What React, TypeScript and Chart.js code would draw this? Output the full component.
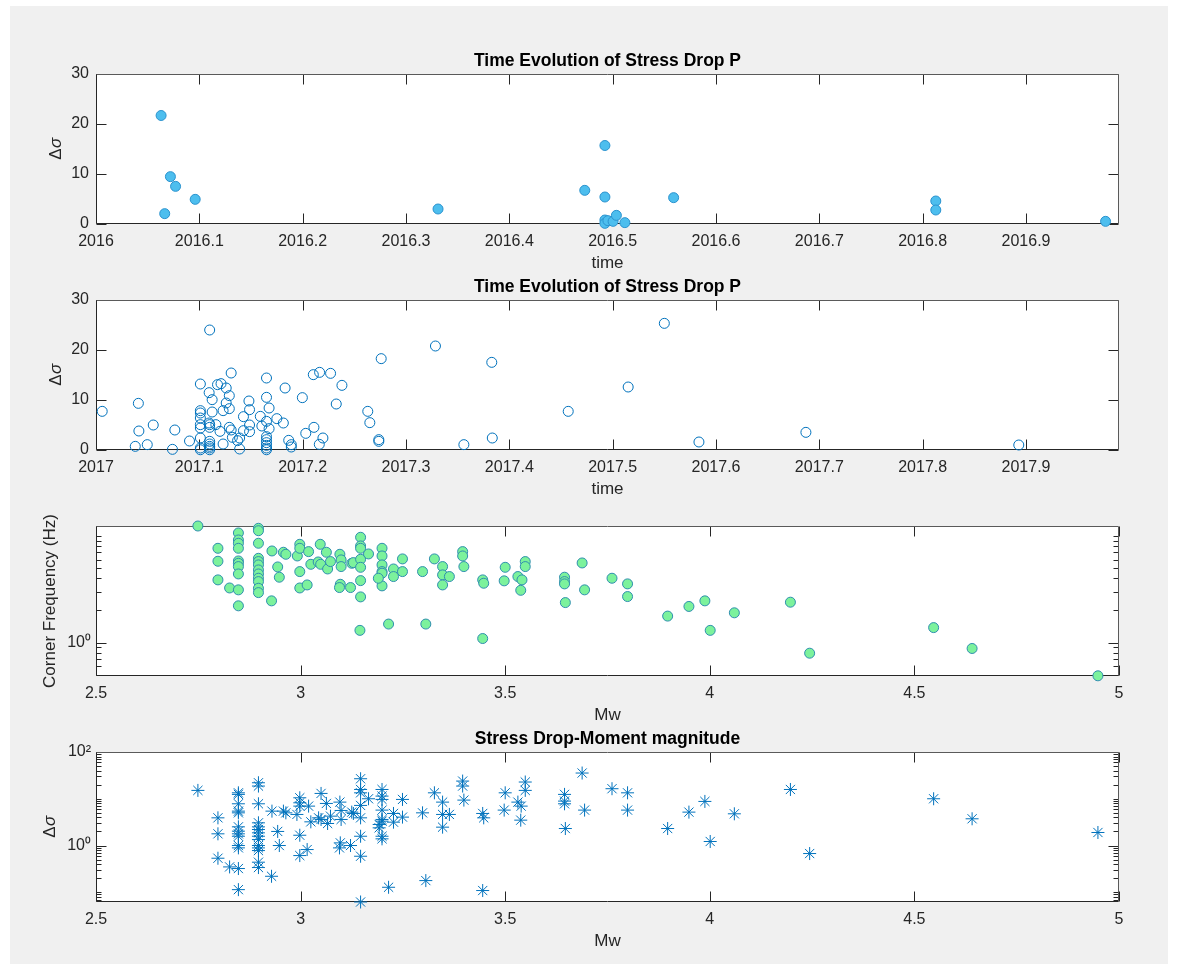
import React, { useEffect, useRef } from "react";
import { Chart, registerables } from "chart.js";

Chart.register(...registerables);

const FONT = '"Liberation Sans", Arial, Helvetica, sans-serif';
const INK = "#262626";

// ---------- 2016 events: origin time (decimal year) vs P-wave stress drop ----------
const time2016 = [
  2016.063, 2016.0665, 2016.072, 2016.077, 2016.096, 2016.331, 2016.473,
  2016.4925, 2016.4925, 2016.4925, 2016.4925, 2016.4954, 2016.5004, 2016.5036,
  2016.5118, 2016.559, 2016.8127, 2016.8127, 2016.977,
];
const stressDrop2016 = [
  21.7, 2.07, 9.47, 7.53, 4.93, 3.0, 6.73,
  15.7, 5.4, 0.8, 0.13, 0.67, 0.53, 1.73,
  0.27, 5.27, 4.6, 2.8, 0.53,
];

// ---------- 2017 events ----------
const time2017 = [
  2017.006, 2017.038, 2017.041, 2017.0415, 2017.0496, 2017.0554, 2017.074, 2017.0763, 2017.0905,
  2017.101, 2017.101, 2017.101, 2017.101, 2017.101, 2017.101, 2017.101, 2017.101, 2017.101,
  2017.11, 2017.1095, 2017.1124, 2017.1124, 2017.1095,
  2017.11, 2017.11, 2017.11, 2017.11, 2017.11, 2017.11, 2017.11,
  2017.1176, 2017.121, 2017.126, 2017.126, 2017.123, 2017.123,
  2017.129, 2017.129, 2017.129, 2017.1308, 2017.1308, 2017.116, 2017.12, 2017.132,
  2017.137, 2017.139, 2017.139, 2017.1427, 2017.1427,
  2017.148, 2017.1486, 2017.1486, 2017.1486, 2017.159, 2017.1605,
  2017.165, 2017.165, 2017.165, 2017.165, 2017.165, 2017.165, 2017.165, 2017.165, 2017.165,
  2017.1675, 2017.1675, 2017.175, 2017.1813, 2017.183, 2017.1865, 2017.189, 2017.189,
  2017.1997, 2017.203, 2017.2103, 2017.2109, 2017.2164, 2017.2161, 2017.2196,
  2017.227, 2017.2325, 2017.238, 2017.263, 2017.265, 2017.2737, 2017.2737, 2017.276,
  2017.3285, 2017.356, 2017.383, 2017.3835, 2017.457, 2017.515, 2017.55, 2017.5835,
  2017.687, 2017.893,
];
const stressDrop2017 = [
  7.73, 0.73, 9.33, 3.8, 1.07, 5.0, 0.13, 4.0, 1.8,
  13.2, 7.87, 7.4, 6.4, 5.07, 4.4, 2.4, 0.4, 0.05,
  24.0, 11.47, 10.07, 7.6, 5.4,
  5.07, 4.53, 1.73, 1.2, 0.73, 0.4, 0.05,
  13.07, 13.27, 12.4, 9.4, 7.87, 1.2,
  10.87, 8.27, 4.53, 15.4, 4.0, 5.07, 3.73, 2.53,
  1.87, 2.4, 0.2, 6.67, 3.87,
  9.8, 8.07, 5.0, 3.67, 6.73, 4.8,
  14.4, 10.53, 5.73, 2.67, 2.07, 1.47, 0.93, 0.4, 0.05,
  8.4, 4.27, 6.27, 5.4, 12.4, 1.93, 1.07, 0.6,
  10.47, 3.33, 15.07, 4.53, 15.53, 1.13, 2.4,
  15.33, 9.2, 12.93, 7.73, 5.47, 2.07, 1.73, 18.27,
  20.8, 1.07, 17.53, 2.4, 7.73, 12.6, 25.33, 1.6,
  3.53, 1.0,
];

// ---------- moment magnitude vs corner frequency ----------
const mwCorner = [
  2.749, 2.798, 2.798, 2.798, 2.8265,
  2.848, 2.848, 2.848, 2.848, 2.848, 2.848, 2.848, 2.848, 2.848, 2.848,
  2.897, 2.897, 2.897, 2.897, 2.897, 2.897, 2.897, 2.897, 2.897, 2.897, 2.897, 2.897,
  2.93, 2.929, 2.944, 2.948, 2.958, 2.964, 2.992,
  2.998, 2.998, 2.998, 2.998, 3.0195, 3.016, 3.025, 3.048, 3.043, 3.049, 3.063, 3.066, 3.073,
  3.096, 3.099, 3.099, 3.097, 3.095, 3.122, 3.125, 3.129,
  3.1466, 3.1466, 3.1466, 3.1466, 3.1466, 3.1466, 3.1466, 3.145, 3.166,
  3.199, 3.199, 3.199, 3.199, 3.199, 3.199, 3.19, 3.227, 3.227, 3.215, 3.249, 3.249,
  3.298, 3.306, 3.327, 3.347, 3.347, 3.347, 3.3636, 3.396, 3.396, 3.399,
  3.445, 3.4475, 3.445, 3.5, 3.4975, 3.531, 3.541, 3.538, 3.549, 3.549,
  3.645, 3.645, 3.645, 3.647, 3.688, 3.694, 3.761, 3.799, 3.799,
  3.897, 3.949, 3.988, 4.001, 4.06, 4.197, 4.244, 4.547, 4.641, 4.9485,
];
const cornerFreq = [
  12.4, 7.66, 5.79, 3.87, 3.25,
  10.67, 9.17, 8.54, 7.66, 5.83, 5.54, 5.16, 4.4, 3.12, 2.21,
  11.8, 11.2, 8.54, 6.17, 5.75, 5.35, 4.8, 4.4, 4.01, 3.73, 3.23, 2.94,
  7.23, 2.46, 5.12, 4.1, 7.03, 6.73, 6.49,
  8.35, 7.66, 4.63, 3.25, 7.13, 3.47, 5.42, 8.35, 5.7, 5.42, 7.03, 4.9, 5.75,
  6.73, 5.96, 5.16, 3.52, 3.28, 3.28, 5.54, 5.62,
  9.72, 8.06, 7.66, 6.04, 5.08, 3.81, 2.68, 1.3, 6.78,
  7.66, 6.49, 5.35, 4.63, 4.47, 3.4, 4.01, 4.9, 4.16, 1.49, 6.09, 4.63,
  4.63, 1.49, 6.09, 5.16, 4.31, 3.47, 4.16, 7.13, 6.49, 5.16,
  3.87, 3.6, 1.09, 5.08, 3.79, 4.16, 3.87, 3.09, 5.75, 5.16,
  4.1, 3.73, 3.55, 2.37, 5.58, 3.12, 4.01, 3.55, 2.7,
  1.77, 2.18, 2.46, 1.3, 1.9, 2.39, 0.794, 1.38, 0.879, 0.487,
];

// ---------- moment magnitude vs stress drop ----------
const mwStress = [
  2.749, 2.798, 2.798, 2.798, 2.8265,
  2.848, 2.848, 2.848, 2.848, 2.848, 2.848, 2.848, 2.848, 2.848, 2.848, 2.848, 2.848, 2.848,
  2.897, 2.897, 2.897, 2.897, 2.897, 2.897, 2.897, 2.897, 2.897, 2.897, 2.897, 2.897, 2.897, 2.897,
  2.929, 2.93, 2.944, 2.948, 2.958, 2.964, 2.991,
  2.998, 2.998, 2.998, 2.998, 2.998, 3.0195, 3.016, 3.025, 3.05, 3.044, 3.05, 3.063, 3.066, 3.073,
  3.096, 3.099, 3.099, 3.097, 3.095, 3.122, 3.125, 3.129,
  3.1466, 3.1466, 3.1466, 3.1466, 3.1466, 3.1466, 3.1466, 3.1466, 3.166,
  3.199, 3.199, 3.199, 3.199, 3.199, 3.199, 3.199, 3.199, 3.192, 3.192,
  3.227, 3.227, 3.215, 3.249, 3.249, 3.298, 3.306, 3.327, 3.347, 3.347, 3.347, 3.3636,
  3.396, 3.396, 3.399, 3.445, 3.4475, 3.445, 3.5, 3.4975, 3.531, 3.539, 3.538, 3.549, 3.549,
  3.645, 3.645, 3.645, 3.647, 3.688, 3.694, 3.761, 3.799, 3.799,
  3.897, 3.949, 3.988, 4.001, 4.06, 4.197, 4.244, 4.547, 4.641, 4.9485,
];
const stressDropMw = [
  15.1, 3.91, 1.78, 0.535, 0.349,
  13.4, 12.4, 7.81, 5.44, 5.0, 2.51, 2.03, 1.78, 1.58, 1.0, 0.891, 0.322, 0.114,
  22.0, 18.7, 7.81, 3.06, 2.51, 2.2, 1.87, 1.58, 1.34, 1.0, 0.89, 0.78, 0.44, 0.338,
  0.22, 5.44, 2.0, 1.0, 5.44, 5.0, 4.62,
  10.5, 8.2, 6.96, 1.66, 0.61, 6.96, 0.82, 3.21, 13.0, 3.91, 3.61, 7.94, 2.96, 4.25,
  8.48, 5.62, 3.61, 1.14, 0.89, 1.0, 5.18, 4.85,
  26.8, 15.8, 13.4, 7.2, 3.91, 1.58, 0.59, 0.062, 10.0,
  15.8, 11.4, 9.68, 5.72, 3.61, 3.32, 1.58, 1.39, 2.82, 2.39,
  4.85, 3.16, 0.128, 9.68, 4.05, 5.0, 0.178, 13.4, 8.48, 4.62, 2.47, 4.62,
  23.9, 18.7, 9.36, 4.85, 3.91, 0.109, 13.4, 5.72, 8.48, 6.96, 3.49, 22.8, 15.1,
  12.4, 8.91, 7.81, 2.31, 35.5, 5.72, 16.4, 13.4, 5.72,
  2.31, 5.18, 8.77, 1.22, 4.77, 15.8, 0.674, 10.0, 3.73, 1.9,
];

// ---------- axis ticks ----------
const ticks2016 = [2016, 2016.1, 2016.2, 2016.3, 2016.4, 2016.5, 2016.6, 2016.7, 2016.8, 2016.9];
const ticks2017 = [2017, 2017.1, 2017.2, 2017.3, 2017.4, 2017.5, 2017.6, 2017.7, 2017.8, 2017.9];
const ticksStressLinear = [0, 10, 20, 30];
const ticksMw = [2.5, 3, 3.5, 4, 4.5, 5];
const ticksCornerLog = [1];
const ticksStressLog = [1, 100];

const SUP: Record<string, string> = { "0": "⁰", "1": "¹", "2": "²", "3": "³", "-": "⁻" };
const powerLabel = (v: number) =>
  "10" + String(Math.round(Math.log10(v))).split("").map((c) => SUP[c] || c).join("");
const yearLabel = (v: number) => String(Number(v.toFixed(1)));
const plainLabel = (v: number) => String(Number(v.toFixed(2)));

function logMinors(min: number, max: number, majors: number[]) {
  const out: number[] = [];
  for (let d = Math.floor(Math.log10(min)); d <= Math.ceil(Math.log10(max)); d++) {
    for (let k = 1; k <= 9; k++) {
      const v = k * Math.pow(10, d);
      if (v >= min && v <= max && !majors.some((m) => Math.abs(m - v) < 1e-9)) out.push(v);
    }
  }
  return out;
}

// Axes box, inward tick marks and axis text, MATLAB style.
const framePlugin = {
  id: "frame",
  beforeDraw(chart: any) {
    const { ctx, chartArea: a } = chart;
    ctx.save();
    ctx.fillStyle = "#ffffff";
    ctx.fillRect(a.left, a.top, a.right - a.left, a.bottom - a.top);
    ctx.restore();
  },
  beforeDatasetsDraw(chart: any, _args: any, opts: any) {
    const { ctx, chartArea: a, scales } = chart;
    const xs = scales.x;
    const ys = scales.y;
    const L = a.left + 0.5;
    const R = a.right - 0.5;
    const T = a.top + 0.5;
    const B = a.bottom - 0.5;
    ctx.save();
    ctx.lineWidth = 1;
    ctx.strokeStyle = INK;
    ctx.beginPath();
    (opts.xTicks || []).forEach((v: number) => {
      const px = Math.round(xs.getPixelForValue(v)) + 0.5;
      ctx.moveTo(px, B);
      ctx.lineTo(px, B - 10);
      ctx.moveTo(px, T);
      ctx.lineTo(px, T + 10);
    });
    (opts.yTicks || []).forEach((v: number) => {
      const py = Math.round(ys.getPixelForValue(v)) + 0.5;
      ctx.moveTo(L, py);
      ctx.lineTo(L + 10, py);
      ctx.moveTo(R, py);
      ctx.lineTo(R - 10, py);
    });
    (opts.yMinor || []).forEach((v: number) => {
      const py = Math.round(ys.getPixelForValue(v)) + 0.5;
      ctx.moveTo(L, py);
      ctx.lineTo(L + 5, py);
      ctx.moveTo(R, py);
      ctx.lineTo(R - 5, py);
    });
    ctx.stroke();
    // top and right edges
    ctx.strokeStyle = "#5a5a5a";
    ctx.beginPath();
    ctx.moveTo(L, T);
    ctx.lineTo(R, T);
    ctx.lineTo(R, B);
    ctx.stroke();
    // left and bottom edges
    ctx.strokeStyle = INK;
    ctx.beginPath();
    ctx.moveTo(L, T);
    ctx.lineTo(L, B);
    ctx.lineTo(R, B);
    ctx.stroke();
    ctx.restore();
  },
  afterDraw(chart: any, _args: any, opts: any) {
    const { ctx, chartArea: a } = chart;
    const cx = (a.left + a.right) / 2;
    ctx.save();
    ctx.textBaseline = "middle";
    if (opts.title) {
      ctx.fillStyle = "#000000";
      ctx.font = `bold 17.5px ${FONT}`;
      ctx.textAlign = "center";
      ctx.fillText(opts.title, cx, a.top - 13);
    }
    ctx.fillStyle = INK;
    ctx.font = `17px ${FONT}`;
    ctx.textAlign = "center";
    ctx.fillText(opts.xLabel, cx, a.bottom + 39);

    ctx.translate(opts.yLabelX, (a.top + a.bottom) / 2);
    ctx.rotate(-Math.PI / 2);
    if (opts.yLabel === "Δσ") {
      const upright = `17px ${FONT}`;
      const italic = `italic 17px ${FONT}`;
      ctx.font = upright;
      const w1 = ctx.measureText("Δ").width;
      ctx.font = italic;
      const w2 = ctx.measureText("σ").width;
      const x0 = -(w1 + w2) / 2;
      ctx.textAlign = "left";
      ctx.font = upright;
      ctx.fillText("Δ", x0, 0);
      ctx.font = italic;
      ctx.fillText("σ", x0 + w1 + 0.5, 0);
    } else {
      ctx.fillText(opts.yLabel, 0, 0);
    }
    ctx.restore();
  },
};

type PanelSpec = {
  top: number;
  title?: string;
  xLabel: string;
  yLabel: string;
  yLabelX: number;
  xMin: number;
  xMax: number;
  xTicks: number[];
  xFmt: (v: number) => string;
  yLog: boolean;
  yMin: number;
  yMax: number;
  yTicks: number[];
  yFmt: (v: number) => string;
  xs: number[];
  ys: number[];
  point: any;
};

const WIDTH = 1177;
const HEAD = 36;
const FOOT = 60;
const PLOT_H = 150;

const panels: PanelSpec[] = [
  {
    top: 74,
    title: "Time Evolution of Stress Drop P",
    xLabel: "time",
    yLabel: "Δσ",
    yLabelX: 56,
    xMin: 2016,
    xMax: 2016.99,
    xTicks: ticks2016,
    xFmt: yearLabel,
    yLog: false,
    yMin: 0,
    yMax: 30,
    yTicks: ticksStressLinear,
    yFmt: plainLabel,
    xs: time2016,
    ys: stressDrop2016,
    point: { pointStyle: "circle", pointRadius: 5, backgroundColor: "#4DBEEE", borderColor: "#2B93CF", borderWidth: 1 },
  },
  {
    top: 300,
    title: "Time Evolution of Stress Drop P",
    xLabel: "time",
    yLabel: "Δσ",
    yLabelX: 56,
    xMin: 2017,
    xMax: 2017.99,
    xTicks: ticks2017,
    xFmt: yearLabel,
    yLog: false,
    yMin: 0,
    yMax: 30,
    yTicks: ticksStressLinear,
    yFmt: plainLabel,
    xs: time2017,
    ys: stressDrop2017,
    point: { pointStyle: "circle", pointRadius: 5, backgroundColor: "rgba(0,0,0,0)", borderColor: "#0072BD", borderWidth: 1 },
  },
  {
    top: 526,
    xLabel: "Mw",
    yLabel: "Corner Frequency (Hz)",
    yLabelX: 50,
    xMin: 2.5,
    xMax: 5,
    xTicks: ticksMw,
    xFmt: plainLabel,
    yLog: true,
    yMin: 0.485,
    yMax: 12.4,
    yTicks: ticksCornerLog,
    yFmt: powerLabel,
    xs: mwCorner,
    ys: cornerFreq,
    point: { pointStyle: "circle", pointRadius: 5, backgroundColor: "#7CF29C", borderColor: "#2F8FAF", borderWidth: 1 },
  },
  {
    top: 752,
    title: "Stress Drop-Moment magnitude",
    xLabel: "Mw",
    yLabel: "Δσ",
    yLabelX: 50,
    xMin: 2.5,
    xMax: 5,
    xTicks: ticksMw,
    xFmt: plainLabel,
    yLog: true,
    yMin: 0.062,
    yMax: 100,
    yTicks: ticksStressLog,
    yFmt: powerLabel,
    xs: mwStress,
    ys: stressDropMw,
    point: { pointStyle: "star", pointRadius: 6.5, backgroundColor: "#0072BD", borderColor: "#0072BD", borderWidth: 1 },
  },
];

function ScatterPanel({ spec }: { spec: PanelSpec }) {
  const ref = useRef<HTMLCanvasElement | null>(null);

  useEffect(() => {
    if (!ref.current) return;
    const tickFont = { family: FONT, size: 16, lineHeight: 1.2 };
    const chart = new Chart(ref.current, {
      type: "scatter",
      data: {
        datasets: [
          {
            data: spec.xs.map((x, i) => ({ x, y: spec.ys[i] })),
            clip: false,
            pointHoverRadius: spec.point.pointRadius,
            ...spec.point,
          },
        ],
      },
      plugins: [framePlugin],
      options: {
        animation: false,
        responsive: false,
        devicePixelRatio: 1,
        events: [],
        layout: { padding: { top: HEAD, right: WIDTH - 1119, bottom: 0, left: 0 } },
        plugins: {
          legend: { display: false },
          tooltip: { enabled: false },
          title: { display: false },
          frame: {
            title: spec.title,
            xLabel: spec.xLabel,
            yLabel: spec.yLabel,
            yLabelX: spec.yLabelX,
            xTicks: spec.xTicks,
            yTicks: spec.yTicks,
            yMinor: spec.yLog ? logMinors(spec.yMin, spec.yMax, spec.yTicks) : [],
          },
        } as any,
        scales: {
          x: {
            type: "linear",
            position: "bottom",
            min: spec.xMin,
            max: spec.xMax,
            bounds: "data",
            grid: { display: false, drawTicks: false },
            border: { display: false },
            ticks: {
              autoSkip: false,
              maxRotation: 0,
              padding: 8,
              color: INK,
              font: tickFont,
              callback: (v: any) => spec.xFmt(Number(v)),
            },
            afterBuildTicks: (s: any) => {
              s.ticks = spec.xTicks.map((value) => ({ value }));
            },
            afterFit: (s: any) => {
              s.height = FOOT;
            },
          },
          y: {
            type: spec.yLog ? "logarithmic" : "linear",
            position: "left",
            min: spec.yMin,
            max: spec.yMax,
            bounds: "data",
            grid: { display: false, drawTicks: false },
            border: { display: false },
            ticks: {
              autoSkip: false,
              padding: spec.yLog ? 5 : 7,
              color: INK,
              font: tickFont,
              callback: (v: any) => spec.yFmt(Number(v)),
            },
            afterBuildTicks: (s: any) => {
              s.ticks = spec.yTicks.map((value) => ({ value }));
            },
            afterFit: (s: any) => {
              s.width = 96;
            },
          },
        } as any,
      },
    });
    return () => chart.destroy();
  }, [spec]);

  return (
    <canvas
      ref={ref}
      width={WIDTH}
      height={HEAD + PLOT_H + FOOT}
      style={{ position: "absolute", left: 0, top: spec.top - HEAD, width: WIDTH, height: HEAD + PLOT_H + FOOT }}
    />
  );
}

export default function App() {
  return (
    <div
      style={{
        position: "absolute",
        left: 0,
        top: 0,
        width: WIDTH,
        height: 972,
        background: "#ffffff",
        overflow: "hidden",
      }}
    >
      <div
        style={{
          position: "absolute",
          left: 10,
          top: 6,
          width: 1158,
          height: 958,
          background: "#f0f0f0",
        }}
      />
      {panels.map((p, i) => (
        <ScatterPanel key={i} spec={p} />
      ))}
    </div>
  );
}
